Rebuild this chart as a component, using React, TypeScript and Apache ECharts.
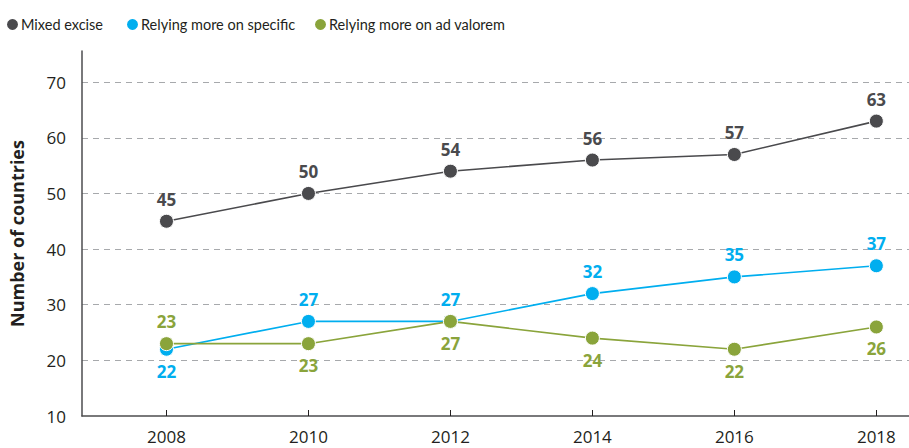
import React, { useEffect, useRef } from "react";
import * as echarts from "echarts";

const years = [2008, 2010, 2012, 2014, 2016, 2018];
const seriesNames = ["Mixed excise", "Relying more on specific", "Relying more on ad valorem"];
const mixed = [45, 50, 54, 56, 57, 63];
const specific = [22, 27, 27, 32, 35, 37];
const adValorem = [23, 23, 27, 24, 22, 26];
const specificLabelPos = ["bottom", "top", "top", "top", "top", "top"];
const adValoremLabelPos = ["top", "bottom", "bottom", "bottom", "bottom", "bottom"];

const FONT = "'Open Sans', 'Noto Sans', sans-serif";
const C_MIXED = "#4a4a4d";
const C_SPEC = "#00aeef";
const C_ADV = "#8aa43b";
const legendLefts = [0, 120, 308];

export default function App() {
  const ref = useRef<HTMLDivElement>(null);
  useEffect(() => {
    const chart = echarts.init(ref.current!, null, { renderer: "svg" });
    const mk = (vals: number[], pos: string[] | null) =>
      vals.map((v, i) => ({
        value: [years[i], v],
        label: { position: pos ? pos[i] : "top" },
      }));
    const seriesBase = (name: string, color: string, data: any[]) => ({
      name,
      type: "line",
      data,
      symbol: "circle",
      symbolSize: 14,
      itemStyle: { color, borderColor: "#fff", borderWidth: 1 },
      lineStyle: { color, width: 1.6 },
      label: {
        show: true,
        color,
        fontFamily: FONT,
        fontWeight: "bold",
        fontSize: 17,
        distance: 6,
        formatter: (p: any) => String(p.value[1]),
      },
    });
    chart.setOption({
      animation: false,
      textStyle: { fontFamily: FONT },
      legend: seriesNames.map((n, i) => ({
        left: legendLefts[i],
        top: 12,
        icon: "circle",
        itemWidth: 13,
        itemHeight: 13,
        selectedMode: false,
        textStyle: { fontFamily: "Lato, 'Open Sans', sans-serif", fontSize: 14.5, color: "#231f20", padding: [0, 0, 0, -3] },
        data: [n],
      })),
      grid: { left: 82, right: 0, top: 51, bottom: 32, containLabel: false },
      xAxis: {
        type: "value",
        min: 2006.81,
        max: 2018.46,
        axisLine: { show: true, lineStyle: { color: "#4d4d4f", width: 1.5 } },
        axisTick: { show: true, inside: true, length: 6, customValues: years, lineStyle: { color: "#231f20" } },
        axisLabel: {
          customValues: years,
          fontFamily: FONT,
          fontSize: 17,
          color: "#231f20",
          margin: 12,
          formatter: (v: number) => String(v),
        },
        splitLine: { show: false },
      },
      yAxis: {
        type: "value",
        min: 10,
        max: 75.6,
        interval: 10,
        name: "Number of countries",
        nameLocation: "middle",
        nameGap: 56,
        nameTextStyle: { fontFamily: FONT, fontSize: 18, fontWeight: "bold", color: "#231f20" },
        axisLine: { show: true, lineStyle: { color: "#4d4d4f", width: 1.5 } },
        axisTick: { show: false },
        axisLabel: {
          fontFamily: FONT,
          fontSize: 17,
          color: "#231f20",
          margin: 16,
          showMaxLabel: false,
        },
        splitLine: {
          show: true,
          showMinLine: false,
          showMaxLine: false,
          lineStyle: { color: "#a7a9ac", type: [6, 5], width: 1 },
        },
      },
      series: [
        seriesBase(seriesNames[0], C_MIXED, mk(mixed, null)),
        seriesBase(seriesNames[1], C_SPEC, mk(specific, specificLabelPos)),
        seriesBase(seriesNames[2], C_ADV, mk(adValorem, adValoremLabelPos)),
      ],
    });
    return () => chart.dispose();
  }, []);
  return <div ref={ref} style={{ width: 909, height: 448, position: "absolute", left: 0, top: 0 }} />;
}
